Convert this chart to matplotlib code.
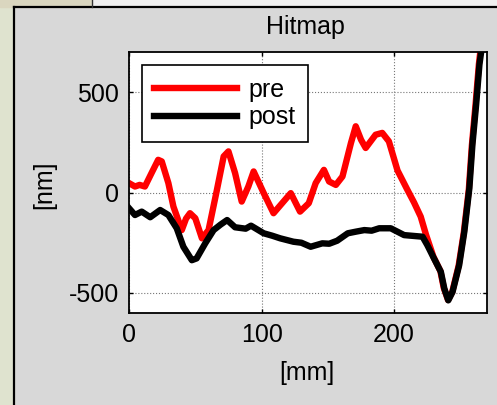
import numpy as np
import matplotlib.pyplot as plt
from matplotlib.patches import Rectangle
from matplotlib.lines import Line2D

plt.rcParams['font.family'] = ['Liberation Sans', 'DejaVu Sans']
plt.rcParams['axes.unicode_minus'] = False

# pre scan (red)
pre_x = [0, 4.5, 8, 12, 17, 22, 24.7, 29.7, 33.5, 39.8, 43, 46, 50, 55, 60, 66.3, 71.4, 75, 80, 85, 90, 94,
         101.6, 109, 115.5, 122, 129, 135.6, 140.8, 147, 150.9, 156, 161, 167.4, 171, 175, 178.5,
         186, 191, 196, 202.5, 210, 215, 220, 224, 229.6, 234.8, 237.4, 240.6, 243.8, 248.6,
         252.5, 256.3, 258.6, 261.4, 263.9, 265.1]
pre_y = [47, 30, 38, 30, 97, 163, 155, 47, -70, -187, -130, -103, -128, -228, -187, 13, 180, 205, 97, -45, 30, 105,
         -3, -103, -53, -3, -95, -53, 47, 113, 55, 38, 80, 247, 330, 263, 222,
         288, 297, 255, 110, 13, -50, -120, -210, -320, -390, -475, -535, -495, -365,
         -200, 15, 235, 440, 640, 710]

# post scan (black)
post_x = [0, 4.5, 9.6, 16, 23.5, 29.7, 36, 41, 47.4, 51, 57.5, 63.8, 69, 74, 80, 88, 92,
          101.6, 108, 114, 124, 130, 137, 145.8, 151, 157, 165, 171, 177.5, 183, 188.7, 197.4, 207.5, 221.4, 225, 230,
          235.2, 237.8, 240.8, 244, 249, 252.9, 256.7, 259, 261.8, 264.3, 266]
post_y = [-78, -112, -95, -123, -87, -112, -178, -270, -337, -328, -253, -187, -160, -137, -173, -180, -165,
          -203, -215, -228, -245, -250, -270, -253, -255, -240, -203, -195, -187, -190, -178, -178, -212, -220, -262, -328,
          -395, -478, -537, -495, -362, -195, 22, 238, 438, 638, 720]

W, H = 497, 405
fig = plt.figure(figsize=(W / 100, H / 100), dpi=100, facecolor='#d8d8d8')

# window chrome around the figure panel
fig.patches.append(Rectangle((0, 0), 14 / W, 1, transform=fig.transFigure, color='#dfe3cf', zorder=0))
fig.patches.append(Rectangle((0, (H - 7) / H), 92 / W, 7 / H, transform=fig.transFigure, color='#dad6bf', zorder=0))
fig.patches.append(Rectangle((92 / W, (H - 7) / H), 1, 7 / H, transform=fig.transFigure, color='#f0f0f0', zorder=0))
fig.lines.append(Line2D([14 / W, 14 / W], [0, (H - 7) / H], transform=fig.transFigure, color='black', lw=1.6))
fig.lines.append(Line2D([14 / W, 1], [(H - 7) / H, (H - 7) / H], transform=fig.transFigure, color='black', lw=1.6))
fig.lines.append(Line2D([92 / W, 92 / W], [(H - 7) / H, 1], transform=fig.transFigure, color='#333333', lw=1))

ax = fig.add_axes([129 / W, (H - 313) / H, 358 / W, 261 / H])
ax.set_facecolor('white')

ax.plot(pre_x, pre_y, color='red', lw=4.6, solid_joinstyle='round', label='pre')
ax.plot(post_x, post_y, color='black', lw=4.6, solid_joinstyle='round', label='post')

ax.set_xlim(0, 270)
ax.set_ylim(-600, 700)
ax.set_xticks([0, 100, 200])
ax.set_yticks([-500, 0, 500])
ax.tick_params(direction='in', length=3, width=1, labelsize=18, top=True, right=True, pad=7)
ax.grid(True, color='#777777', linestyle=':', linewidth=0.8)
for s in ax.spines.values():
    s.set_linewidth(1.3)

leg = ax.legend(loc='upper left', bbox_to_anchor=(0.0355, 0.950), borderaxespad=0, fontsize=18,
                handlelength=3.3, handletextpad=0.45, labelspacing=0.15, borderpad=0.5,
                fancybox=False, framealpha=1, edgecolor='black')
leg.get_frame().set_linewidth(1.2)

fig.text(305 / W, (H - 34) / H, 'Hitmap', ha='center', va='baseline', fontsize=18)
fig.text(307 / W, (H - 373) / H, '[mm]', ha='center', va='center', fontsize=18)
fig.text(44 / W, (H - 185) / H, '[nm]', ha='center', va='center', rotation=90, fontsize=18)

fig.savefig('out.png', dpi=100, facecolor=fig.get_facecolor())
